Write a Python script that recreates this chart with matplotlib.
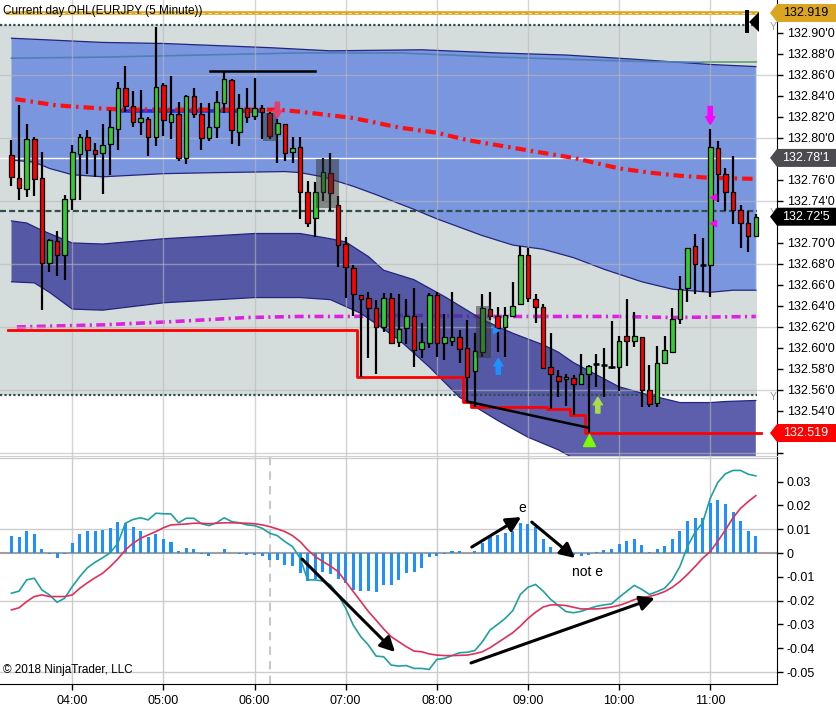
import numpy as np
import matplotlib
matplotlib.use('Agg')
import matplotlib.pyplot as plt
from matplotlib.patches import Polygon, Rectangle
from matplotlib.transforms import blended_transform_factory
from matplotlib.ticker import FuncFormatter

plt.rcParams['font.family'] = ['Liberation Sans', 'DejaVu Sans']

# ---- EURJPY 5 minute bars, 03:20 .. 11:30 ----
opens = [132.784, 132.762, 132.751, 132.799, 132.762, 132.681, 132.702, 132.689, 132.742, 132.785,
         132.801, 132.789, 132.786, 132.794, 132.809, 132.848, 132.830, 132.815, 132.818, 132.801,
         132.850, 132.815, 132.823, 132.781, 132.840, 132.823, 132.800, 132.810, 132.833, 132.855,
         132.806, 132.829, 132.821, 132.829, 132.824, 132.804, 132.813, 132.787, 132.791, 132.749,
         132.724, 132.749, 132.767, 132.736, 132.699, 132.676, 132.650, 132.648, 132.638, 132.620,
         132.648, 132.606, 132.619, 132.630, 132.599, 132.605, 132.650, 132.605, 132.607, 132.610,
         132.600, 132.578, 132.596, 132.637, 132.630, 132.620, 132.630, 132.642, 132.689, 132.647,
         132.639, 132.582, 132.573, 132.570, 132.571, 132.566, 132.575, 132.585, 132.584, 132.582,
         132.582, 132.611, 132.607, 132.610, 132.560, 132.548, 132.586, 132.596, 132.628, 132.657,
         132.697, 132.679, 132.679, 132.790, 132.766, 132.749, 132.731, 132.719, 132.707]
highs = [132.798, 132.831, 132.813, 132.801, 132.787, 132.704, 132.711, 132.746, 132.793, 132.804,
         132.808, 132.795, 132.813, 132.827, 132.853, 132.869, 132.845, 132.846, 132.820, 132.906,
         132.852, 132.859, 132.834, 132.841, 132.848, 132.833, 132.833, 132.845, 132.863, 132.856,
         132.842, 132.848, 132.857, 132.831, 132.825, 132.818, 132.813, 132.801, 132.801, 132.759,
         132.758, 132.781, 132.786, 132.745, 132.706, 132.679, 132.650, 132.653, 132.646, 132.652,
         132.652, 132.651, 132.647, 132.657, 132.624, 132.652, 132.653, 132.632, 132.653, 132.617,
         132.627, 132.614, 132.651, 132.653, 132.639, 132.639, 132.663, 132.697, 132.695, 132.651,
         132.642, 132.614, 132.579, 132.575, 132.574, 132.594, 132.584, 132.594, 132.600, 132.626,
         132.611, 132.647, 132.634, 132.610, 132.584, 132.602, 132.611, 132.638, 132.669, 132.695,
         132.709, 132.705, 132.809, 132.797, 132.771, 132.783, 132.736, 132.730, 132.728]
lows = [132.754, 132.741, 132.744, 132.745, 132.636, 132.672, 132.669, 132.665, 132.731, 132.741,
        132.766, 132.763, 132.747, 132.765, 132.789, 132.825, 132.810, 132.803, 132.783, 132.792,
        132.802, 132.799, 132.778, 132.775, 132.819, 132.789, 132.797, 132.800, 132.824, 132.794,
        132.792, 132.814, 132.817, 132.799, 132.799, 132.776, 132.778, 132.776, 132.723, 132.715,
        132.706, 132.740, 132.730, 132.677, 132.648, 132.630, 132.572, 132.590, 132.575, 132.615,
        132.605, 132.601, 132.604, 132.582, 132.590, 132.600, 132.591, 132.589, 132.602, 132.586,
        132.549, 132.544, 132.591, 132.627, 132.596, 132.591, 132.630, 132.642, 132.644, 132.624,
        132.581, 132.542, 132.553, 132.545, 132.536, 132.566, 132.519, 132.563, 132.553, 132.580,
        132.559, 132.583, 132.601, 132.544, 132.544, 132.544, 132.586, 132.596, 132.623, 132.644,
        132.651, 132.653, 132.649, 132.739, 132.730, 132.718, 132.695, 132.691, 132.707]
closes = [132.763, 132.752, 132.799, 132.761, 132.681, 132.703, 132.689, 132.742, 132.787, 132.801,
          132.789, 132.785, 132.793, 132.810, 132.848, 132.830, 132.815, 132.819, 132.801, 132.849,
          132.817, 132.823, 132.781, 132.840, 132.823, 132.800, 132.810, 132.834, 132.856, 132.808,
          132.829, 132.820, 132.829, 132.825, 132.802, 132.814, 132.786, 132.790, 132.749, 132.719,
          132.749, 132.768, 132.748, 132.698, 132.677, 132.651, 132.647, 132.638, 132.620, 132.648,
          132.605, 132.618, 132.630, 132.598, 132.606, 132.650, 132.605, 132.610, 132.610, 132.599,
          132.572, 132.597, 132.638, 132.630, 132.619, 132.631, 132.640, 132.689, 132.648, 132.639,
          132.581, 132.575, 132.569, 132.572, 132.566, 132.575, 132.583, 132.585, 132.584, 132.582,
          132.607, 132.607, 132.611, 132.560, 132.547, 132.586, 132.598, 132.628, 132.656, 132.695,
          132.680, 132.679, 132.791, 132.766, 132.749, 132.731, 132.719, 132.707, 132.725]

# MACD panel
hist = [0.0071, 0.0067, 0.0092, 0.0080, 0.0017, -0.0004, -0.0022, -0.0004, 0.0042, 0.0080,
        0.0092, 0.0092, 0.0097, 0.0105, 0.0130, 0.0126, 0.0110, 0.0092, 0.0067, 0.0080,
        0.0059, 0.0045, 0.0008, 0.0021, 0.0015, -0.0003, -0.0011, 0.0000, 0.0017, 0.0000,
        -0.0004, -0.0007, -0.0008, -0.0011, -0.0028, -0.0028, -0.0050, -0.0053, -0.0084, -0.0116,
        -0.0109, -0.0078, -0.0088, -0.0109, -0.0127, -0.0155, -0.0158, -0.0158, -0.0162, -0.0134,
        -0.0133, -0.0112, -0.0083, -0.0080, -0.0063, -0.0015, -0.0013, -0.0006, 0.0007, 0.0010,
        0.0002, 0.0010, 0.0043, 0.0067, 0.0074, 0.0083, 0.0094, 0.0127, 0.0122, 0.0109,
        0.0057, 0.0024, 0.0003, 0.0000, -0.0010, -0.0014, -0.0007, 0.0003, 0.0011, 0.0015,
        0.0036, 0.0049, 0.0057, 0.0032, 0.0003, 0.0015, 0.0028, 0.0057, 0.0091, 0.0133,
        0.0147, 0.0147, 0.0209, 0.0221, 0.0204, 0.0172, 0.0133, 0.0091, 0.0070]
macd = [-0.0169, -0.0160, -0.0113, -0.0106, -0.0155, -0.0176, -0.0207, -0.0190, -0.0141, -0.0099,
        -0.0062, -0.0039, -0.0020, 0.0001, 0.0041, 0.0125, 0.0141, 0.0148, 0.0139, 0.0167,
        0.0165, 0.0164, 0.0127, 0.0146, 0.0146, 0.0123, 0.0115, 0.0127, 0.0148, 0.0132,
        0.0127, 0.0118, 0.0115, 0.0104, 0.0083, 0.0073, 0.0048, 0.0027, -0.0022, -0.0113,
        -0.0113, -0.0118, -0.0134, -0.0176, -0.0232, -0.0303, -0.0352, -0.0387, -0.0433, -0.0436,
        -0.0471, -0.0475, -0.0473, -0.0485, -0.0485, -0.0489, -0.0447, -0.0443, -0.0431, -0.0419,
        -0.0417, -0.0410, -0.0373, -0.0324, -0.0300, -0.0275, -0.0242, -0.0174, -0.0144, -0.0132,
        -0.0160, -0.0195, -0.0221, -0.0246, -0.0251, -0.0245, -0.0234, -0.0224, -0.0218, -0.0214,
        -0.0186, -0.0161, -0.0136, -0.0153, -0.0174, -0.0162, -0.0148, -0.0113, -0.0057, 0.0027,
        0.0087, 0.0127, 0.0230, 0.0297, 0.0333, 0.0347, 0.0347, 0.0331, 0.0324]
signal = [-0.0239, -0.0230, -0.0204, -0.0183, -0.0176, -0.0183, -0.0183, -0.0183, -0.0176, -0.0148,
          -0.0125, -0.0104, -0.0085, -0.0057, -0.0025, 0.0013, 0.0041, 0.0062, 0.0076, 0.0090,
          0.0106, 0.0118, 0.0120, 0.0122, 0.0125, 0.0125, 0.0123, 0.0125, 0.0127, 0.0127,
          0.0126, 0.0125, 0.0123, 0.0118, 0.0111, 0.0101, 0.0090, 0.0073, 0.0048, 0.0013,
          -0.0015, -0.0036, -0.0055, -0.0078, -0.0120, -0.0162, -0.0204, -0.0246, -0.0282, -0.0319,
          -0.0352, -0.0373, -0.0394, -0.0412, -0.0415, -0.0424, -0.0429, -0.0431, -0.0431, -0.0430,
          -0.0429, -0.0423, -0.0415, -0.0398, -0.0377, -0.0356, -0.0335, -0.0307, -0.0275, -0.0249,
          -0.0227, -0.0218, -0.0218, -0.0221, -0.0228, -0.0235, -0.0235, -0.0235, -0.0232, -0.0227,
          -0.0220, -0.0209, -0.0196, -0.0188, -0.0182, -0.0174, -0.0162, -0.0144, -0.0120, -0.0090,
          -0.0057, -0.0022, 0.0006, 0.0050, 0.0097, 0.0148, 0.0188, 0.0216, 0.0241]

hour_bars = [8, 20, 32, 44, 56, 68, 80, 92]
hour_labels = ['04:00', '05:00', '06:00', '07:00', '08:00', '09:00', '10:00', '11:00']

# envelope bands (read at a few bars)
ub_top_x = [0, 12, 20, 34, 42, 54, 64, 73, 82, 92, 98]
ub_top_y = [132.895, 132.891, 132.890, 132.886, 132.883, 132.884, 132.881, 132.879, 132.875, 132.870, 132.868]
ub_bot_x = [0, 3, 5, 8, 12, 20, 27, 36, 38, 41, 45, 48, 53, 56, 62, 66, 70, 74, 78, 83, 87, 92, 95, 98]
ub_bot_y = [132.779, 132.777, 132.771, 132.765, 132.763, 132.766, 132.767, 132.768, 132.767, 132.763, 132.754, 132.746,
            132.732, 132.723, 132.707, 132.698, 132.694, 132.686, 132.675, 132.663, 132.656, 132.653, 132.655, 132.655]
lb_top_x = [0, 2, 4, 8, 12, 20, 32, 38, 42, 44, 47, 49, 53, 57, 62, 66, 70, 72, 74, 80, 84, 88, 92, 94, 98]
lb_top_y = [132.721, 132.719, 132.712, 132.700, 132.699, 132.704, 132.709, 132.709, 132.704, 132.701, 132.687, 132.674,
            132.665, 132.649, 132.627, 132.614, 132.603, 132.596, 132.586, 132.563, 132.555, 132.548, 132.548, 132.549, 132.550]
lb_bot_x = [0, 3, 5, 8, 12, 20, 32, 38, 42, 46, 51, 55, 59, 64, 68, 72, 75, 80, 90, 98]
lb_bot_y = [132.663, 132.662, 132.653, 132.637, 132.636, 132.643, 132.648, 132.648, 132.646, 132.633,
            132.608, 132.582, 132.553, 132.531, 132.515, 132.503, 132.491, 132.484, 132.476, 132.476]
steel_x = [0, 12, 25, 38, 51, 64, 73, 82, 91]
steel_y = [132.876, 132.877, 132.879, 132.881, 132.881, 132.877, 132.875, 132.873, 132.872]
green_x = [91, 98]
green_y = [132.872, 132.872]
red_ma_x = [0.5, 6, 12, 15, 35, 38, 45, 51, 56, 60, 69, 74, 80, 84, 88, 92, 98]
red_ma_y = [132.837, 132.831, 132.828, 132.827, 132.827, 132.825, 132.819, 132.810, 132.805, 132.798, 132.787,
            132.781, 132.771, 132.767, 132.764, 132.762, 132.761]
blue_ma_x = [14, 33]
blue_ma_y = [132.826, 132.826]
mag_ma_x = [0.7, 12, 21, 31, 38, 45, 51, 64, 80, 87, 98]
mag_ma_y = [132.620, 132.622, 132.625, 132.629, 132.630, 132.630, 132.631, 132.630, 132.630, 132.629, 132.630]

day_low_before = 132.617
day_high = 132.919
white_level = 132.781
last_level = 132.7305
zone_top = 132.9076
zone_bottom = 132.5552

W, H = 836, 712
fig = plt.figure(figsize=(W / 100, H / 100), dpi=100)
ax = fig.add_axes([0, 256 / H, 777 / W, 456 / H])
mx = fig.add_axes([0, 28 / H, 777 / W, 227 / H])
X0, X1, XEND = -1.514, 100.79, 98.16
YLO, YHI = 132.4971, 132.9314

idx = np.arange(len(opens))
o, h, l, c = map(np.array, (opens, highs, lows, closes))

# background zone and grid
ax.add_patch(Rectangle((X0, zone_bottom), XEND - X0, zone_top - zone_bottom, fc='#d5dddc', ec='none', zorder=0.2))
for v in [132.50, 132.56, 132.62, 132.68, 132.74, 132.80, 132.86]:
    ax.axhline(v, color='#b8b8b8', lw=1, alpha=0.6, zorder=1.3)
for b in hour_bars:
    ax.axvline(b, color='#b8b8b8', lw=1, alpha=0.6, zorder=1.3)

ax.plot(mag_ma_x, mag_ma_y, color='#e020e0', lw=2.6, dashes=(2.5, 1.2, 0.6, 1.2), zorder=0.8)

ax.fill(np.r_[ub_top_x, ub_bot_x[::-1]], np.r_[ub_top_y, ub_bot_y[::-1]], color='#6384e0', alpha=0.8, lw=0, zorder=1)
ax.fill(np.r_[lb_top_x, lb_bot_x[::-1]], np.r_[lb_top_y, lb_bot_y[::-1]], color='#353797', alpha=0.8, lw=0, zorder=1)
for xs, ys in [(ub_top_x, ub_top_y), (ub_bot_x, ub_bot_y), (lb_top_x, lb_top_y), (lb_bot_x, lb_bot_y)]:
    ax.plot(xs, ys, color='#24247e', lw=0.9, zorder=1.1)
ax.plot(steel_x, steel_y, color='#4f7fb5', lw=1.2, zorder=1.2)
ax.plot(green_x, green_y, color='#5f9f6f', lw=1.2, zorder=1.2)

# horizontal levels
ax.plot([-0.5, XEND], [day_high, day_high], color='#daa520', lw=2.6, zorder=1.5)
ax.plot([-0.5, XEND], [day_high, day_high], color='#fff2b8', lw=0.6, dashes=(4, 4), zorder=1.55)
ax.plot([X0, XEND], [zone_top, zone_top], color='#2f4f4f', lw=1.6, dashes=(1, 1), zorder=1.5)
ax.plot([X0, XEND], [zone_bottom, zone_bottom], color='#2f4f4f', lw=1.6, dashes=(1, 1), zorder=1.5)
ax.plot([X0, XEND], [last_level, last_level], color='#2f4f4f', lw=1.6, dashes=(2.7, 1.4), zorder=1.5)
ax.plot([X0, X1], [white_level, white_level], color='white', lw=1, zorder=1.5)

run_low = np.minimum.accumulate(np.r_[day_low_before, l])[1:]
ax.step(np.r_[idx - 0.5, 98.66], np.r_[run_low, run_low[-1]], where='post', color='#ff0000', lw=2, zorder=1.6)
ax.plot([60, 76], [132.549, 132.524], color='black', lw=1.8, zorder=1.7)
ax.plot([26.1, 39.96], [132.864, 132.864], color='black', lw=1.8, zorder=4)

ax.plot(blue_ma_x, blue_ma_y, color='#1030ff', lw=2.6, zorder=2)
ax.plot(red_ma_x, red_ma_y, color='#ff1010', lw=3, dashes=(2.5, 1.2, 0.6, 1.2), zorder=2.1)

# candles
ax.vlines(idx, l, h, color='black', lw=1.6, zorder=3)
up, dn, dj = c > o, c < o, c == o
ax.bar(idx[up], (c - o)[up], bottom=o[up], width=0.6, color='#32cd32', edgecolor='black', lw=0.9, zorder=3.1)
ax.bar(idx[dn], (c - o)[dn], bottom=o[dn], width=0.6, color='#ff0000', edgecolor='black', lw=0.9, zorder=3.1)
ax.hlines(c[dj], idx[dj] - 0.4, idx[dj] + 0.4, color='black', lw=1.8, zorder=3.1)

# highlight boxes
for x0, x1, y0, y1 in [(33.05, 34.95, 132.797, 132.824), (40.1, 43.1, 132.733, 132.780), (61.2, 63.1, 132.590, 132.640)]:
    ax.add_patch(Rectangle((x0, y0), x1 - x0, y1 - y0, fc='#333333', ec='none', alpha=0.5, zorder=3.5))

def block_arrow(x, tail, tip, color):
    ax.annotate('', xy=(x, tip), xytext=(x, tail), zorder=5,
                arrowprops=dict(arrowstyle='simple,head_length=0.45,head_width=0.55,tail_width=0.25',
                                color=color, shrinkA=0, shrinkB=0, mutation_scale=12))

block_arrow(35, 132.834, 132.819, '#e0406e')
block_arrow(92, 132.830, 132.813, '#ff00ff')
block_arrow(64.1, 132.575, 132.590, '#1e90ff')
block_arrow(77.2, 132.538, 132.553, '#a8dc48')
ax.plot([92.4, 92.4], [132.744, 132.719], ls='none', marker='<', color='#ff00ff', ms=5, zorder=5)
ax.plot([63.75], [132.617], ls='none', marker='>', color='#1e90ff', ms=5, zorder=5)
ax.plot([76.06], [132.512], ls='none', marker='^', color='#7cfc00', ms=8, zorder=5)

ax.text(3 / 777, 1 - 11 / 456, 'Current day OHL(EURJPY (5 Minute))', transform=ax.transAxes,
        fontsize=8.5, va='center', ha='left', zorder=12)

# right axis
ax.yaxis.tick_right()
pt = np.round(np.arange(132.50, 132.925, 0.02), 2)
hide = {132.50, 132.52, 132.72, 132.78, 132.92}
ax.set_yticks(pt)
ax.set_yticklabels(['' if v in hide else f"{v:.2f}'0" for v in pt])
ax.tick_params(axis='y', direction='out', length=4, width=1, pad=3, labelsize=9, colors='black')
ax.tick_params(axis='x', bottom=False, labelbottom=False)
for s in ['left', 'top']:
    ax.spines[s].set_visible(False)
ax.spines['bottom'].set_color('#d0d0d0')
ax.spines['right'].set_color('black')

tb = blended_transform_factory(fig.transFigure, ax.transData)

def price_box(p, text, fc, tc):
    hh = 9 / 1050
    xs = np.array([770, 777, 840, 840, 777]) / W
    ys = [p, p + hh, p + hh, p - hh, p - hh]
    ax.add_patch(Polygon(np.c_[xs, ys], closed=True, transform=tb, fc=fc, ec='none', clip_on=False, zorder=10))
    ax.text(806 / W, p, text, transform=tb, ha='center', va='center', color=tc, fontsize=9,
            zorder=11, clip_on=False)

price_box(day_high, '132.919', '#daa520', 'black')
price_box(white_level, "132.78'1", '#4b4b50', 'white')
price_box(closes[-1], "132.72'5", 'black', 'white')
price_box(min(lows), '132.519', '#ff0000', 'white')
for p in [zone_top, last_level, zone_bottom]:
    ax.text(773 / W, p - 0.002, 'Y', transform=tb, ha='center', va='center', color='#9a9a9a', fontsize=7.5)

fig.add_artist(Rectangle((745 / W, 1 - 33 / H), 4 / W, 23 / H, transform=fig.transFigure, fc='black', ec='none'))
fig.add_artist(Polygon([[749 / W, 1 - 22 / H], [759 / W, 1 - 12 / H], [759 / W, 1 - 32 / H]],
                       transform=fig.transFigure, fc='black', ec='none'))

# MACD panel
for v in [0.04, 0.01, -0.02, -0.05]:
    mx.axhline(v, color='#cccccc', lw=1, zorder=0.5)
for b in hour_bars:
    mx.axvline(b, color='#cccccc', lw=1, zorder=0.5)
mx.axvline(34, color='#c8c8c8', lw=1.5, ls=(0, (4, 3)), zorder=0.6)
mx.axhline(0, color='#a0a0a0', lw=1.5, zorder=1.5)
mx.bar(idx, hist, width=0.4, color='#1e90ff', zorder=2)
mx.plot(idx, macd, color='#20a0a0', lw=1.2, zorder=3)
mx.plot(idx, signal, color='#e0305a', lw=1.2, zorder=3)

arr = dict(arrowstyle='-|>,head_length=0.55,head_width=0.28', color='black', lw=2.2,
           mutation_scale=16, shrinkA=0, shrinkB=0)
mx.annotate('', xy=(50.5, -0.0416), xytext=(38.25, -0.0025), arrowprops=arr, zorder=5)
mx.annotate('', xy=(67.1, 0.0151), xytext=(60.6, 0.0025), arrowprops=arr, zorder=5)
mx.annotate('', xy=(74.2, -0.0021), xytext=(68.5, 0.0130), arrowprops=arr, zorder=5)
mx.annotate('', xy=(84.7, -0.0189), xytext=(60.5, -0.0462), arrowprops=arr, zorder=5)
mx.text(67.2, 0.0189, 'e', fontsize=10, ha='center', va='center', zorder=6)
mx.text(75.9, -0.0080, 'not e', fontsize=10, ha='center', va='center', zorder=6)
mx.text(3 / 777, 14 / 227, '\u00a9 2018 NinjaTrader, LLC', transform=mx.transAxes, fontsize=8.5,
        ha='left', va='center', zorder=6)

mx.yaxis.tick_right()
mt = np.round(np.arange(-0.05, 0.035, 0.01), 2)
mx.set_yticks(mt)
mx.yaxis.set_major_formatter(FuncFormatter(lambda v, _: '0' if abs(v) < 1e-9 else f'{v:.2f}'))
mx.tick_params(axis='y', direction='out', length=4, width=1, pad=3, labelsize=9)
mx.set_xticks(hour_bars)
mx.set_xticklabels(hour_labels)
mx.tick_params(axis='x', direction='out', length=4, width=1, pad=4, labelsize=9)
for s in ['left', 'top']:
    mx.spines[s].set_visible(False)

ax.set_xlim(X0, X1)
ax.set_ylim(YLO, YHI)
mx.set_xlim(X0, X1)
mx.set_ylim(-0.05504, 0.04034)

fig.savefig('out.png', dpi=100, facecolor='white')
